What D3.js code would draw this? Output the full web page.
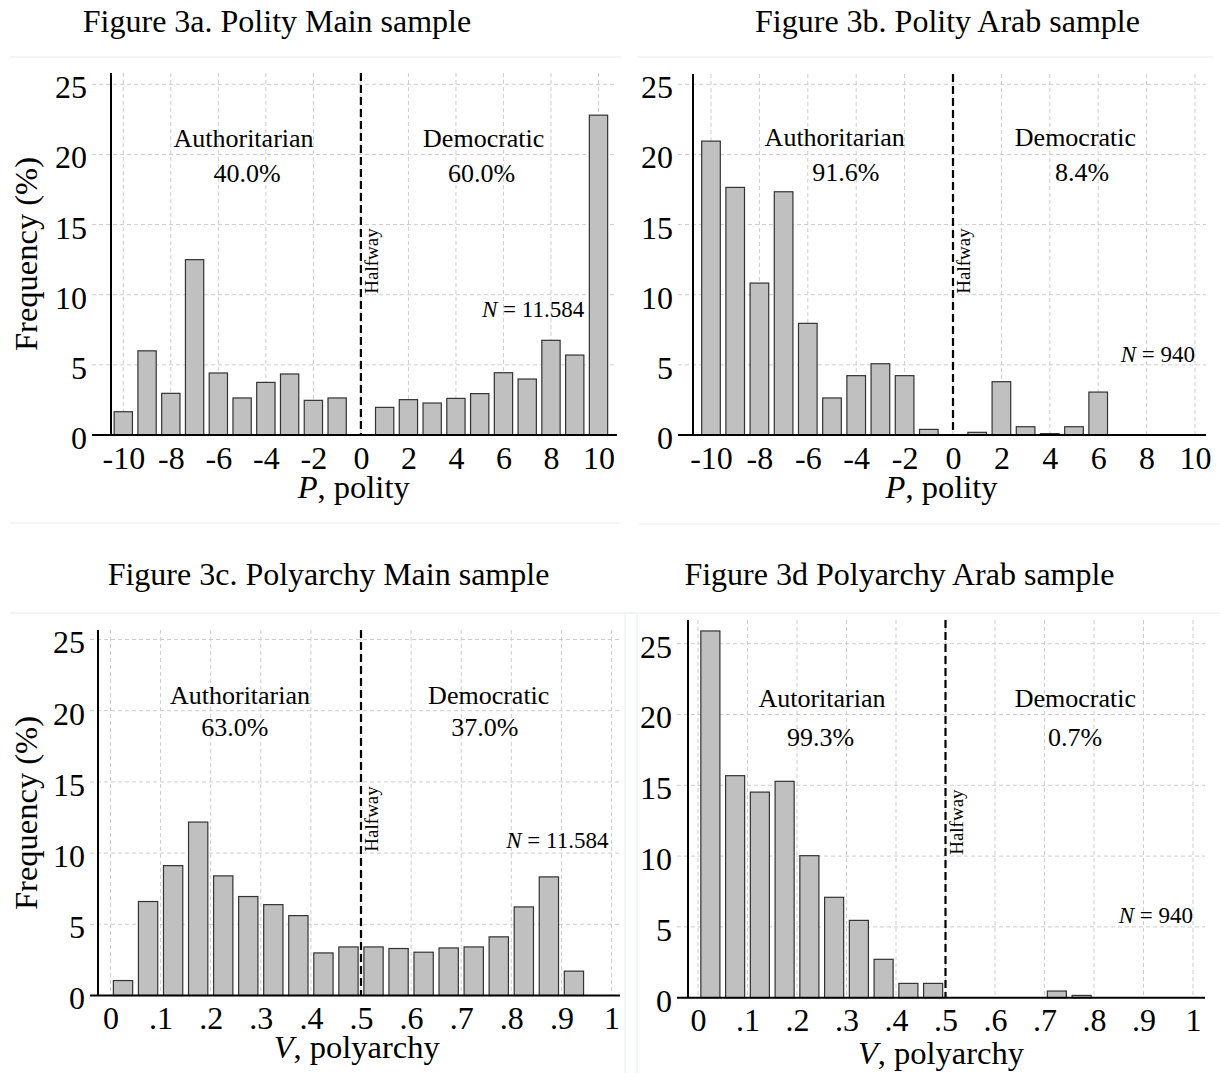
<!DOCTYPE html>
<html>
<head>
<meta charset="utf-8">
<script src="https://cdn.jsdelivr.net/npm/d3@7"></script>
<style>
  html, body { margin: 0; padding: 0; background: #fff; }
  svg text { font-family: "Liberation Serif", "Times New Roman", serif; fill: #000; }
</style>
</head>
<body>
<script>
// ---- data ----
const polityBins = [-10, -9, -8, -7, -6, -5, -4, -3, -2, -1, 0, 1, 2, 3, 4, 5, 6, 7, 8, 9, 10];
const polityMain = [1.66, 6.0, 2.97, 12.5, 4.42, 2.64, 3.75, 4.35, 2.47, 2.64, 0,
                    1.97, 2.52, 2.28, 2.61, 2.95, 4.44, 3.99, 6.75, 5.7, 22.8];
const polityArab = [20.95, 17.65, 10.83, 17.34, 7.96, 2.64, 4.23, 5.08, 4.23, 0.40, 0,
                    0.19, 3.80, 0.59, 0.10, 0.59, 3.06, 0, 0, 0, 0];

// polyarchy bins: start of each .05 bin
const polyarchyBins = [0, .05, .1, .15, .2, .25, .3, .35, .4, .45, .5, .55, .6, .65, .7, .75, .8, .85, .9, .95];
const polyarchyMain = [1.05, 6.6, 9.12, 12.18, 8.4, 6.95, 6.38, 5.61, 2.99, 3.41,
                       3.41, 3.3, 3.04, 3.34, 3.41, 4.12, 6.22, 8.33, 1.71, 0];
const polyarchyArab = [25.9, 15.68, 14.52, 15.28, 10.03, 7.09, 5.46, 2.71, 1.01, 1.01,
                       0, 0, 0, 0, 0.47, 0.16, 0, 0, 0, 0];

const polityTicks = [-10, -8, -6, -4, -2, 0, 2, 4, 6, 8, 10];
const polyarchyTicks = [0, .1, .2, .3, .4, .5, .6, .7, .8, .9, 1];
const freqTicks = [0, 5, 10, 15, 20, 25];

const titles = ["Figure 3a. Polity Main sample", "Figure 3b. Polity Arab sample",
                "Figure 3c. Polyarchy Main sample", "Figure 3d Polyarchy Arab sample"];
const regimeLabels = [["Authoritarian", "Democratic"], ["Authoritarian", "Democratic"],
                      ["Authoritarian", "Democratic"], ["Autoritarian", "Democratic"]];
const shares = [["40.0%", "60.0%"], ["91.6%", "8.4%"], ["63.0%", "37.0%"], ["99.3%", "0.7%"]];
const sampleN = ["11.584", "940", "11.584", "940"];

// ---- layout (pixels) ----
const W = 1220, H = 1073;
const svg = d3.select("body").append("svg").attr("width", W).attr("height", H);

// faint panel frames
const frames = [
  [10, 57, 621, 57], [10, 523, 621, 523],
  [637, 57, 1213, 57], [639, 524, 1220, 524],
  [10, 613, 637, 613], [637, 613, 637, 1073],
  [625, 613, 1220, 613], [625, 613, 625, 1073]
];
svg.selectAll("line.frame").data(frames).enter().append("line")
  .attr("class", "frame")
  .attr("x1", d => d[0]).attr("y1", d => d[1]).attr("x2", d => d[2]).attr("y2", d => d[3])
  .attr("stroke", "#e9eeee").attr("stroke-width", 1);

const panels = [
  { bins: polityBins, vals: polityMain, binW: 1, center: true, ticks: polityTicks, mid: 0,
    xDom: [-10, 10], xRange: [123.3, 598.5], yAxisX: 111, axL: 92, axR: 617,
    y0: 435, y25: 84.3, top: 73, title: [277, 32], titleX: [353.7, 498], var: "P", varRest: ", polity",
    yTitle: [37, 254], lab: [[-4.94, 20.5], [5.17, 20.5]], pct: [[-4.79, 18.0], [5.08, 18.0]], nPos: [9.4, 8.39],
    fmt: d => d < 0 ? "-" + Math.abs(d) : String(d) },
  { bins: polityBins, vals: polityArab, binW: 1, center: true, ticks: polityTicks, mid: 0,
    xDom: [-10, 10], xRange: [711, 1195], yAxisX: 693, axL: 678, axR: 1206,
    y0: 435, y25: 84.3, top: 74, title: [947.5, 32], titleX: [941.5, 498], var: "P", varRest: ", polity",
    yTitle: null, lab: [[-4.89, 20.6], [5.06, 20.6]], pct: [[-4.43, 18.13], [5.33, 18.13]], nPos: [10, 5.22],
    fmt: d => d < 0 ? "-" + Math.abs(d) : String(d) },
  { bins: polyarchyBins, vals: polyarchyMain, binW: .05, center: false, ticks: polyarchyTicks, mid: .5,
    xDom: [0, 1], xRange: [110.5, 611.5], yAxisX: 98, axL: 90, axR: 620,
    y0: 995.5, y25: 639.5, top: 630, title: [328.5, 585], titleX: [356.7, 1058], var: "V", varRest: ", polyarchy",
    yTitle: [37, 813], lab: [[.2585, 20.47], [.755, 20.47]], pct: [[.248, 18.22], [.747, 18.22]], nPos: [.994, 10.34],
    fmt: d => (d === 0 || d === 1) ? String(d) : String(d).replace(/^0/, "") },
  { bins: polyarchyBins, vals: polyarchyArab, binW: .05, center: false, ticks: polyarchyTicks, mid: .5,
    xDom: [0, 1], xRange: [698, 1193], yAxisX: 688, axL: 677, axR: 1205,
    y0: 997.7, y25: 643.7, top: 620, title: [899.5, 585], titleX: [941, 1064], var: "V", varRest: ", polyarchy",
    yTitle: null, lab: [[.2505, 20.55], [.7624, 20.55]], pct: [[.2477, 17.78], [.762, 17.78]], nPos: [1.0, 5.25],
    fmt: d => (d === 0 || d === 1) ? String(d) : String(d).replace(/^0/, "") }
];

panels.forEach(function(p, i) {
  const g = svg.append("g");
  const x = d3.scaleLinear().domain(p.xDom).range(p.xRange);
  const y = d3.scaleLinear().domain([0, 25]).range([p.y0, p.y25]);

  // grid
  g.selectAll("line.hgrid").data(freqTicks.filter(d => d > 0)).enter().append("line")
    .attr("x1", p.axL).attr("x2", p.axR)
    .attr("y1", d => y(d)).attr("y2", d => y(d))
    .attr("stroke", "#cdcdcd").attr("stroke-width", 1).attr("stroke-dasharray", "4,3");
  g.selectAll("line.vgrid").data(p.ticks).enter().append("line")
    .attr("x1", d => x(d)).attr("x2", d => x(d))
    .attr("y1", p.top).attr("y2", p.y0)
    .attr("stroke", "#cdcdcd").attr("stroke-width", 1).attr("stroke-dasharray", "4,3");

  // bars
  const step = x(p.binW) - x(0);
  const bw = step * 0.77;
  const data = p.bins.map((b, k) => ({ c: p.center ? b : b + p.binW / 2, v: p.vals[k] }))
                     .filter(d => d.v > 0);
  g.selectAll("rect.bar").data(data).enter().append("rect")
    .attr("x", d => x(d.c) - bw / 2)
    .attr("width", bw)
    .attr("y", d => y(d.v))
    .attr("height", d => y(0) - y(d.v))
    .attr("fill", "#c0c0c0").attr("stroke", "#333").attr("stroke-width", 1.2);

  // halfway line
  g.append("line")
    .attr("x1", x(p.mid)).attr("x2", x(p.mid))
    .attr("y1", p.top).attr("y2", p.y0)
    .attr("stroke", "#000").attr("stroke-width", 2.2).attr("stroke-dasharray", "8,4");
  g.append("text")
    .attr("transform", `translate(${x(p.mid) + 17},${y(12.4)}) rotate(-90)`)
    .attr("text-anchor", "middle").style("font-size", "19px")
    .text("Halfway");

  // axes lines
  g.append("line").attr("x1", p.yAxisX).attr("x2", p.yAxisX).attr("y1", p.top).attr("y2", p.y0)
    .attr("stroke", "#000").attr("stroke-width", 2);
  g.append("line").attr("x1", p.axL).attr("x2", p.axR).attr("y1", p.y0).attr("y2", p.y0)
    .attr("stroke", "#000").attr("stroke-width", 2);

  // tick labels
  const xa = g.append("g").attr("transform", `translate(0,${p.y0})`)
    .call(d3.axisBottom(x).tickValues(p.ticks).tickSize(0).tickPadding(11).tickFormat(p.fmt));
  xa.select(".domain").remove();
  xa.selectAll("text").style("font-size", "32px").attr("fill", "#000");

  const ya = g.append("g").attr("transform", `translate(${p.axL},0)`)
    .call(d3.axisLeft(y).tickValues(freqTicks).tickSize(0).tickPadding(5));
  ya.select(".domain").remove();
  ya.selectAll("text").style("font-size", "32px").attr("fill", "#000").attr("dy", "0.42em");

  // titles
  svg.append("text").attr("x", p.title[0]).attr("y", p.title[1])
    .attr("text-anchor", "middle").style("font-size", "32px").text(titles[i]);
  const xt = svg.append("text").attr("x", p.titleX[0]).attr("y", p.titleX[1])
    .attr("text-anchor", "middle").style("font-size", "32.5px");
  xt.append("tspan").style("font-style", "italic").text(p.var);
  xt.append("tspan").text(p.varRest);
  if (p.yTitle) {
    svg.append("text")
      .attr("transform", `translate(${p.yTitle[0]},${p.yTitle[1]}) rotate(-90)`)
      .attr("text-anchor", "middle").style("font-size", "32.5px").text("Frequency (%)");
  }

  // regime annotations
  [0, 1].forEach(function(k) {
    g.append("text").attr("x", x(p.lab[k][0])).attr("y", y(p.lab[k][1]))
      .attr("text-anchor", "middle").style("font-size", "26px").text(regimeLabels[i][k]);
    g.append("text").attr("x", x(p.pct[k][0])).attr("y", y(p.pct[k][1]))
      .attr("text-anchor", "middle").style("font-size", "26px").text(shares[i][k]);
  });

  const nt = g.append("text").attr("x", x(p.nPos[0])).attr("y", y(p.nPos[1]))
    .attr("text-anchor", "end").style("font-size", "23px");
  nt.append("tspan").style("font-style", "italic").text("N");
  nt.append("tspan").text(" = " + sampleN[i]);
});
</script>
</body>
</html>
